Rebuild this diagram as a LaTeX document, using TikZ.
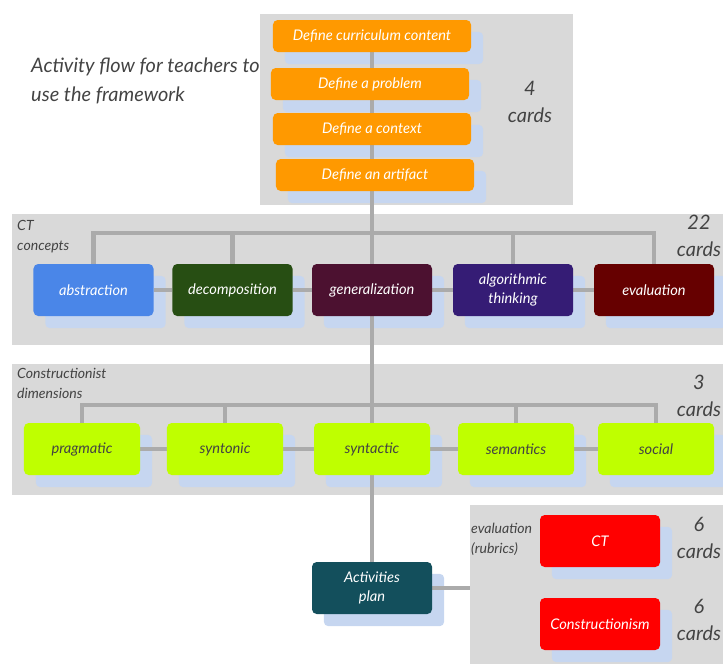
\documentclass[tikz,border=0pt]{standalone}
\usepackage{fontspec}
\setmainfont{Lato}
\usetikzlibrary{calc,positioning}
\definecolor{panelgray}{HTML}{D9D9D9}
\definecolor{linegray}{HTML}{ABABAB}
\definecolor{shadowblue}{HTML}{C6D6F0}
\definecolor{cardorange}{HTML}{FF9900}
\definecolor{cardlime}{HTML}{BFFF00}
\definecolor{abscol}{HTML}{4A86E8}
\definecolor{deccol}{HTML}{274E13}
\definecolor{gencol}{HTML}{4C1130}
\definecolor{algcol}{HTML}{351C75}
\definecolor{evacol}{HTML}{660000}
\definecolor{plancol}{HTML}{134F5C}
\definecolor{rubcol}{HTML}{FF0000}
\definecolor{inkgray}{HTML}{434343}
\pgfdeclarelayer{bg}
\pgfdeclarelayer{mid}
\pgfsetlayers{bg,mid,main}

\begin{document}
\begin{tikzpicture}[x=0.03cm,y=-0.03cm,
    card/.style={rounded corners=4pt,minimum width=3.6cm,minimum height=1.56cm,align=center,
      font=\itshape\fontsize{12.5}{16}\selectfont,text=white,inner sep=2pt},
    taskcard/.style={card,fill=cardorange,minimum width=5.94cm,minimum height=0.96cm},
    limecard/.style={card,fill=cardlime,minimum width=3.48cm,text=inkgray},
    note/.style={font=\itshape\fontsize{12}{17}\selectfont,text=inkgray,align=left,inner sep=0pt},
    count/.style={font=\itshape\fontsize{17}{23}\selectfont,text=inkgray,align=center,inner sep=0pt},
    link/.style={draw=linegray,line width=3.5pt}]
    \useasboundingbox (0,0) rectangle (723,664);
    % define steps
    \node[taskcard] (cur) at (372,36) {Define curriculum content};
    \node[taskcard] (prob) at (370,84) {Define a problem};
    \node[taskcard] (ctx) at (372,129) {Define a context};
    \node[taskcard] (art) at (375,175) {Define an artifact};
    % CT concepts
    \node[card,fill=abscol] (abs) at (93.5,290) {abstraction};
    \node[card,fill=deccol] (dec) at (232.5,290) {decomposition};
    \node[card,fill=gencol] (gen) at (372,290) {generalization};
    \node[card,fill=algcol] (alg) at (513,290) {algorithmic\\thinking};
    \node[card,fill=evacol] (eva) at (654,290) {evaluation};
    % constructionist dimensions
    \node[limecard] (prag) at (82,449) {pragmatic};
    \node[limecard] (synto) at (225,449) {syntonic};
    \node[limecard] (syntac) at (372,449) {syntactic};
    \node[limecard] (sem) at (516,449) {semantics};
    \node[limecard] (soc) at (656,449) {social};
    % plan and rubrics
    \node[card,fill=plancol] (plan) at (372,588) {Activities\\plan};
    \node[card,fill=rubcol] (ct) at (600,541) {CT};
    \node[card,fill=rubcol] (cons) at (600,624) {Constructionism};
    % texts
    \node[count,anchor=north west,align=left,font=\itshape\fontsize{17}{24}\selectfont] (title) at (31,58)
      {Activity flow for teachers to\\use the framework};
    \node[count] (n4) at (530,102) {4\\cards};
    \node[note,anchor=north west] (ctlab) at (17,220) {CT\\concepts};
    \node[count] (n22) at (699,236) {22\\cards};
    \node[note,anchor=north west] (conlab) at (17,368) {Constructionist\\dimensions};
    \node[count] (n3) at (699,396) {3\\cards};
    \node[note,anchor=north west] (rublab) at (471,523) {evaluation\\(rubrics)};
    \node[count] (n6a) at (699,538) {6\\cards};
    \node[count] (n6b) at (699,620) {6\\cards};
    \coordinate (ctbar) at (372,233);
    \coordinate (conbar) at (372,405);
    \coordinate (rubedge) at (470,588);
    % panels and shadows
    \begin{pgfonlayer}{bg}
        \fill[panelgray] (260,14) rectangle (573,205);
        \fill[panelgray] (12,214) rectangle (723,345);
        \fill[panelgray] (12,364) rectangle (723,495);
        \fill[panelgray] (470,505) rectangle (723,664);
        \foreach \n in {cur,prob,ctx,art,abs,dec,gen,alg,eva,prag,synto,syntac,sem,soc,plan,ct,cons}
            \fill[shadowblue,rounded corners=4pt] ($(\n.south west)+(12,12)$) rectangle ($(\n.north east)+(12,12)$);
    \end{pgfonlayer}
    % connectors
    \begin{pgfonlayer}{mid}
        \draw[link] (cur.south) -- (plan.north);
        \draw[link] (abs.north) |- (ctbar) -| (eva.north);
        \draw[link] (dec.north) -- (dec.north |- ctbar);
        \draw[link] (alg.north) -- (alg.north |- ctbar);
        \draw[link] (prag.north) |- (conbar) -| (soc.north);
        \draw[link] (synto.north) -- (synto.north |- conbar);
        \draw[link] (sem.north) -- (sem.north |- conbar);
        \draw[link] (abs) -- (dec);
        \draw[link] (dec) -- (gen);
        \draw[link] (gen) -- (alg);
        \draw[link] (alg) -- (eva);
        \draw[link] (prag) -- (synto);
        \draw[link] (synto) -- (syntac);
        \draw[link] (syntac) -- (sem);
        \draw[link] (sem) -- (soc);
        \draw[link] (plan) -- (rubedge);
    \end{pgfonlayer}
\end{tikzpicture}
\end{document}
